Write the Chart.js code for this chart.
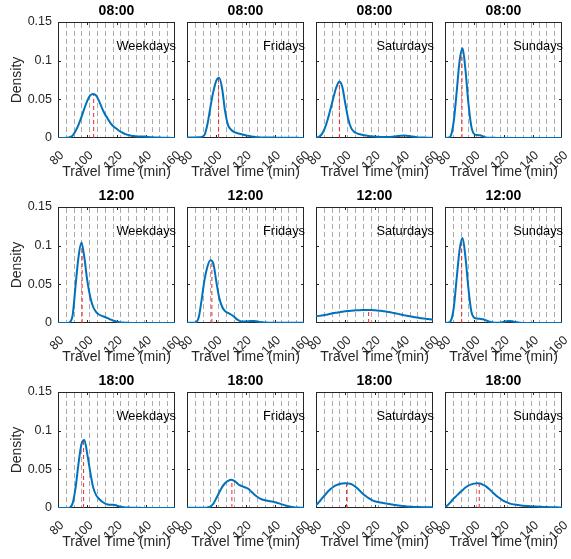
<!DOCTYPE html>
<html>
<head>
<meta charset="utf-8">
<script src="https://cdn.jsdelivr.net/npm/chart.js@4.4.0/dist/chart.umd.min.js"></script>
<style>
  body { margin: 0; background: #fff; }
  #wrap { position: relative; width: 571px; height: 559px; }
  #wrap canvas { position: absolute; }
</style>
</head>
<body>
<div id="wrap"></div>
<script>
// travel time grid the densities were read on (min)
const travelTime = [80, 82, 84, 86, 88, 90, 92, 94, 96, 98, 100, 102, 104, 106, 108, 110, 112, 114, 116, 118, 120,
  122, 124, 126, 128, 130, 132, 134, 136, 138, 140, 142, 144, 146, 148, 150, 152, 154, 156, 158, 160];

const hours = ['08:00', '12:00', '18:00'];
const dayTypes = ['Weekdays', 'Fridays', 'Saturdays', 'Sundays'];
const xTicks = [80, 100, 120, 140, 160];
const yTicks = [0, 0.05, 0.1, 0.15];
// grey dashed reference lines
const refLines = [85.3, 90.7, 96, 101.3, 106.7, 112, 117.3, 122.7, 128, 133.3, 138.7, 144, 149.3, 154.7];

// 08:00
const wkd08 = [0, 0, 0, 0.0003, 0.001, 0.003, 0.009, 0.017, 0.027, 0.038, 0.048, 0.055, 0.057, 0.055, 0.048, 0.039, 0.031, 0.025, 0.019, 0.015, 0.012,
  0.009, 0.007, 0.005, 0.004, 0.003, 0.0025, 0.002, 0.002, 0.0018, 0.0015, 0.0012, 0.001, 0.0008, 0.0006, 0.0005, 0.0004, 0.0003, 0.0002, 0.0001, 0];
const fri08 = [0.0005, 0.0005, 0.0005, 0.0007, 0.001, 0.0015, 0.004, 0.018, 0.04, 0.06, 0.074, 0.078, 0.064, 0.035, 0.017, 0.011, 0.008, 0.0065, 0.0055, 0.0045, 0.0035,
  0.0028, 0.002, 0.0015, 0.001, 0.0008, 0.0006, 0.0005, 0.0005, 0.0005, 0.0005, 0.0004, 0.0004, 0.0003, 0.0003, 0.0003, 0.0002, 0.0002, 0.0002, 0.0001, 0.0001];
const sat08 = [0.0005, 0.0015, 0.005, 0.0125, 0.024, 0.038, 0.053, 0.066, 0.073, 0.066, 0.045, 0.025, 0.013, 0.008, 0.006, 0.0048, 0.004, 0.0033, 0.0027, 0.0022, 0.0018,
  0.0015, 0.0013, 0.0012, 0.0012, 0.0013, 0.0015, 0.002, 0.0025, 0.003, 0.0032, 0.003, 0.0025, 0.0018, 0.0012, 0.0008, 0.0006, 0.0005, 0.0004, 0.0003, 0.0003];
const sun08 = [0, 0.0003, 0.003, 0.022, 0.06, 0.1, 0.116, 0.088, 0.045, 0.015, 0.005, 0.0038, 0.0035, 0.002, 0.0008, 0.0004, 0.0002, 0.0002, 0.0001, 0, 0,
  0, 0, 0, 0, 0, 0, 0, 0, 0, 0, 0, 0, 0, 0, 0, 0, 0, 0, 0, 0];

// 12:00
const wkd12 = [0, 0, 0, 0, 0.001, 0.01, 0.048, 0.085, 0.104, 0.085, 0.055, 0.034, 0.021, 0.0145, 0.011, 0.0092, 0.0078, 0.0062, 0.0045, 0.003, 0.002,
  0.001, 0.0005, 0.0003, 0.0002, 0.0001, 0, 0, 0, 0, 0, 0, 0, 0, 0, 0, 0, 0, 0, 0, 0];
const fri12 = [0.0003, 0.0003, 0.0004, 0.0008, 0.007, 0.03, 0.056, 0.073, 0.081, 0.077, 0.054, 0.033, 0.021, 0.0155, 0.013, 0.011, 0.0085, 0.005, 0.0028, 0.0018, 0.0018,
  0.0022, 0.0026, 0.0025, 0.002, 0.0013, 0.0009, 0.0006, 0.0004, 0.0003, 0.0003, 0.0003, 0.0003, 0.0003, 0.0003, 0.0003, 0.0003, 0.0003, 0.0003, 0.0003, 0.0003];
const sat12 = [0.0086, 0.0092, 0.0098, 0.0104, 0.011, 0.0119, 0.0128, 0.0134, 0.014, 0.0146, 0.0151, 0.0155, 0.0159, 0.0162, 0.0164, 0.0166, 0.0167, 0.0168, 0.0168, 0.0167, 0.0165,
  0.0162, 0.0158, 0.0153, 0.0148, 0.0141, 0.0134, 0.0126, 0.0118, 0.011, 0.0102, 0.0095, 0.0088, 0.0081, 0.0074, 0.0068, 0.0062, 0.0057, 0.0052, 0.0047, 0.0043];
const sun12 = [0, 0.0003, 0.003, 0.02, 0.058, 0.095, 0.11, 0.085, 0.045, 0.015, 0.0068, 0.0058, 0.0054, 0.0048, 0.0035, 0.002, 0.0009, 0.0004, 0.0003, 0.0006, 0.0015,
  0.0023, 0.0026, 0.0022, 0.0012, 0.0005, 0.0002, 0, 0, 0, 0, 0, 0, 0, 0, 0, 0, 0, 0, 0, 0];

// 18:00
const wkd18 = [0, 0, 0, 0, 0.0005, 0.006, 0.026, 0.057, 0.082, 0.088, 0.07, 0.047, 0.027, 0.017, 0.012, 0.0085, 0.006, 0.0045, 0.0042, 0.0042, 0.0033,
  0.002, 0.0012, 0.0008, 0.0006, 0.0004, 0.0003, 0.0002, 0.0002, 0.0001, 0, 0, 0, 0, 0, 0, 0, 0, 0, 0, 0];
const fri18 = [0.0003, 0.0003, 0.0003, 0.0003, 0.0003, 0.0003, 0.0004, 0.0008, 0.0018, 0.0055, 0.0125, 0.02, 0.027, 0.032, 0.035, 0.0366, 0.0355, 0.0325, 0.0295, 0.028, 0.0265,
  0.0248, 0.021, 0.0175, 0.0145, 0.0122, 0.0107, 0.0098, 0.009, 0.0083, 0.0075, 0.0065, 0.0053, 0.004, 0.003, 0.002, 0.0013, 0.0008, 0.0005, 0.0004, 0.0003];
const sat18 = [0.0035, 0.0075, 0.012, 0.0165, 0.021, 0.0245, 0.0275, 0.0295, 0.031, 0.0318, 0.032, 0.0318, 0.031, 0.0288, 0.0258, 0.0222, 0.0185, 0.0155, 0.0128, 0.0105, 0.0088,
  0.0078, 0.007, 0.0064, 0.0057, 0.0051, 0.0044, 0.0038, 0.0033, 0.0028, 0.0024, 0.002, 0.0017, 0.0015, 0.0013, 0.0012, 0.0011, 0.001, 0.001, 0.0009, 0.0009];
const sun18 = [0.0017, 0.004, 0.008, 0.0125, 0.016, 0.0197, 0.023, 0.0265, 0.029, 0.0305, 0.0315, 0.032, 0.0318, 0.03, 0.028, 0.0248, 0.0213, 0.0178, 0.0145, 0.0118, 0.0093,
  0.0075, 0.006, 0.005, 0.0044, 0.0038, 0.0033, 0.0029, 0.0026, 0.0023, 0.0021, 0.0019, 0.0017, 0.0015, 0.0014, 0.0012, 0.0011, 0.001, 0.0009, 0.0008, 0.0007];

// mode of each panel (red dashed line): time and density height
const modeTime08 = [104.4, 101.6, 96, 91.6];
const modePeak08 = [0.057, 0.078, 0.073, 0.116];
const modeTime12 = [96.5, 97, 116, 91.4];
const modePeak12 = [0.104, 0.081, 0.0168, 0.11];
const modeTime18 = [97.5, 110.7, 100.9, 103.4];
const modePeak18 = [0.088, 0.0366, 0.032, 0.032];

const density = [[wkd08, fri08, sat08, sun08], [wkd12, fri12, sat12, sun12], [wkd18, fri18, sat18, sun18]];
const modeTime = [modeTime08, modeTime12, modeTime18];
const modePeak = [modePeak08, modePeak12, modePeak18];

const COLORS = {
  curve: '#0072BD',
  mode: '#ff2020',
  ref: '#ababab',
  axis: '#262626',
  text: '#000000',
};

// panel geometry (px)
const PLOT_LEFT = [58, 187, 316, 445];
const PLOT_TOP = [22, 207, 392];
const PLOT_W = 117, PLOT_H = 116;
const AXIS_W = 58, AXIS_H = 43, PAD_TOP = 22, PAD_RIGHT = 14;

Chart.defaults.font.family = '"Liberation Sans", Arial, Helvetica, sans-serif';
Chart.defaults.color = COLORS.axis;

const wrap = document.getElementById('wrap');

function framePlugin(r, c) {
  return {
    id: 'frame',
    beforeDatasetsDraw(chart) {
      const { ctx, chartArea: a, scales: { x, y } } = chart;
      ctx.save();
      // grey dashed lines
      ctx.strokeStyle = COLORS.ref;
      ctx.lineWidth = 1;
      ctx.setLineDash([5, 3]);
      refLines.forEach(v => {
        const px = Math.round(x.getPixelForValue(v)) + 0.5;
        ctx.beginPath();
        ctx.moveTo(px, a.top + 1);
        ctx.lineTo(px, a.bottom);
        ctx.stroke();
      });
      ctx.setLineDash([]);
      // box
      ctx.strokeStyle = COLORS.axis;
      ctx.strokeRect(a.left + 0.5, a.top + 0.5, a.right - a.left - 1, a.bottom - a.top - 1);
      // inward ticks on all four sides
      const tl = 3;
      xTicks.slice(1, -1).forEach(v => {
        const px = Math.round(x.getPixelForValue(v)) + 0.5;
        ctx.beginPath();
        ctx.moveTo(px, a.bottom); ctx.lineTo(px, a.bottom - tl);
        ctx.moveTo(px, a.top); ctx.lineTo(px, a.top + tl);
        ctx.stroke();
      });
      yTicks.slice(1, -1).forEach(v => {
        const py = Math.round(y.getPixelForValue(v)) + 0.5;
        ctx.beginPath();
        ctx.moveTo(a.left, py); ctx.lineTo(a.left + tl, py);
        ctx.moveTo(a.right, py); ctx.lineTo(a.right - tl, py);
        ctx.stroke();
      });
      ctx.restore();
    },
    afterDraw(chart) {
      const { ctx, chartArea: a } = chart;
      ctx.save();
      ctx.fillStyle = COLORS.text;
      ctx.textBaseline = 'middle';
      ctx.textAlign = 'center';
      ctx.font = 'bold 14px "Liberation Sans", Arial, sans-serif';
      ctx.fillText(hours[r], (a.left + a.right) / 2, a.top - 11);
      ctx.textAlign = 'right';
      ctx.font = '12.8px "Liberation Sans", Arial, sans-serif';
      ctx.fillText(dayTypes[c], a.right + 1, a.top + 24);
      ctx.restore();
    },
  };
}

function makePanel(r, c) {
  const cv = document.createElement('canvas');
  cv.width = AXIS_W + PLOT_W + PAD_RIGHT;
  cv.height = PAD_TOP + PLOT_H + AXIS_H;
  cv.style.left = (PLOT_LEFT[c] - AXIS_W) + 'px';
  cv.style.top = (PLOT_TOP[r] - PAD_TOP) + 'px';
  wrap.appendChild(cv);

  const ys = density[r][c];
  const first = c === 0;

  new Chart(cv, {
    type: 'line',
    data: {
      datasets: [
        {
          data: travelTime.map((t, i) => ({ x: t, y: ys[i] })),
          borderColor: COLORS.curve,
          borderWidth: 2,
          pointRadius: 0,
          cubicInterpolationMode: 'monotone',
          fill: false,
        },
        {
          data: [{ x: modeTime[r][c], y: 0 }, { x: modeTime[r][c], y: modePeak[r][c] }],
          borderColor: COLORS.mode,
          borderWidth: 1,
          borderDash: [4, 3],
          pointRadius: 0,
          fill: false,
        },
      ],
    },
    options: {
      responsive: false,
      animation: false,
      events: [],
      layout: { padding: { top: PAD_TOP, right: PAD_RIGHT, left: 0, bottom: 0 } },
      plugins: { legend: { display: false }, tooltip: { enabled: false } },
      scales: {
        x: {
          type: 'linear',
          min: 80,
          max: 160,
          grid: { display: false, drawTicks: false },
          border: { display: false },
          afterBuildTicks: s => { s.ticks = xTicks.map(v => ({ value: v })); },
          afterFit: s => { s.height = AXIS_H; s.paddingLeft = 0; s.paddingRight = 0; },
          ticks: {
            autoSkip: false,
            minRotation: 45,
            maxRotation: 45,
            padding: 10,
            labelOffset: 4,
            color: COLORS.axis,
            font: { size: 12.5 },
            callback: v => String(v),
          },
          title: { display: true, text: 'Travel Time (min)', color: COLORS.axis, font: { size: 14 }, padding: 0 },
        },
        y: {
          min: 0,
          max: 0.15,
          grid: { display: false, drawTicks: false },
          border: { display: false },
          afterBuildTicks: s => { s.ticks = yTicks.map(v => ({ value: v })); },
          afterFit: s => { s.width = AXIS_W; s.paddingTop = 0; s.paddingBottom = 0; },
          ticks: { display: first, padding: 6, color: COLORS.axis, font: { size: 12.5 }, callback: v => String(v) },
          title: { display: first, text: 'Density', color: COLORS.axis, font: { size: 14 }, padding: { top: 9, bottom: 0 } },
        },
      },
    },
    plugins: [framePlugin(r, c)],
  });
}

hours.forEach((h, r) => dayTypes.forEach((d, c) => makePanel(r, c)));
</script>
</body>
</html>
